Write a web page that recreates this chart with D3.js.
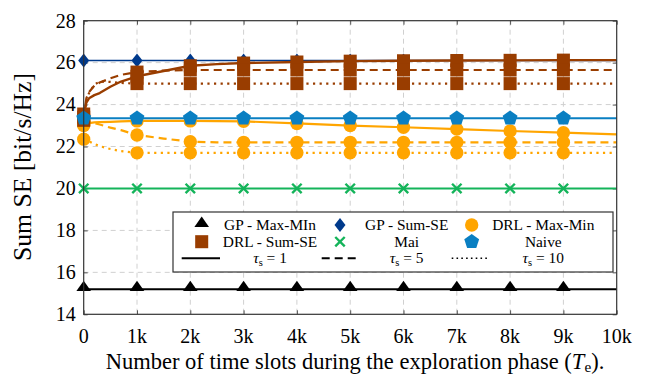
<!DOCTYPE html>
<html><head><meta charset="utf-8">
<script src="https://cdn.jsdelivr.net/npm/d3@7"></script>
</head><body style="margin:0"><svg id="c" width="652" height="375" style="font-family:'Liberation Serif', serif"></svg>
<script>
// ---------------- data ----------------
const xTicks = [0,1000,2000,3000,4000,5000,6000,7000,8000,9000,10000];
const xTickLabels = ["0","1k","2k","3k","4k","5k","6k","7k","8k","9k","10k"];
const yTicks = [14,16,18,20,22,24,26,28];
const markerX = [0,1000,2000,3000,4000,5000,6000,7000,8000,9000];

const flatX = [0,1000,2000,3000,4000,5000,6000,7000,8000,9000,10000];
const gpMaxMin = [15.2,15.2,15.2,15.2,15.2,15.2,15.2,15.2,15.2,15.2,15.2];
const gpSumSE  = [26.1,26.1,26.1,26.1,26.1,26.1,26.1,26.1,26.1,26.1,26.1];
const maiVals  = [20.0,20.0,20.0,20.0,20.0,20.0,20.0,20.0,20.0,20.0,20.0];
const naiveVals= [23.35,23.35,23.35,23.35,23.35,23.35,23.35,23.35,23.35,23.35,23.35];

const drlX = [0,50,100,200,300,500,700,1000,1500,2000,2500,3000,4000,5000,6000,7000,8000,9000,10000];
const drlSumT1  = [23.55,24.1,24.3,24.45,24.55,24.85,25.1,25.35,25.6,25.85,25.93,25.98,26.03,26.07,26.09,26.1,26.11,26.12,26.12];
const drlSumT5  = [23.4,24.3,24.6,24.9,25.05,25.25,25.42,25.55,25.62,25.65,25.65,25.65,25.65,25.65,25.65,25.65,25.65,25.65,25.65];
const drlSumT10 = [23.25,24.2,24.55,24.95,25.1,25.08,25.03,25.0,25.0,25.0,25.0,25.0,25.0,25.0,25.0,25.0,25.0,25.0,25.0];
const drlMMT1   = [23.0,23.1,23.12,23.15,23.16,23.18,23.2,23.22,23.22,23.22,23.21,23.2,23.1,23.0,22.92,22.83,22.74,22.66,22.58];
const drlMMT5   = [23.05,23.15,23.2,23.12,23.05,22.9,22.78,22.55,22.38,22.23,22.2,22.2,22.2,22.2,22.2,22.2,22.2,22.2,22.2];
const drlMMT10  = [22.35,22.3,22.25,22.12,22.02,21.88,21.78,21.7,21.7,21.7,21.7,21.7,21.7,21.7,21.7,21.7,21.7,21.7,21.7];

// ---------------- layout ----------------
const FONT = "'Liberation Serif', serif";
const svg = d3.select("#c");
const x = d3.scaleLinear().domain([0,10000]).range([83.7,616.7]);
const y = d3.scaleLinear().domain([14,28]).range([314.3,20.7]);
const X0=83.7,X1=616.7,Y0=20.7,Y1=314.3;

const C = {brown:"#993d00", orange:"#ffa500", navy:"#003a8c", blue:"#0a7fc2", green:"#14b45a", black:"#000"};

function addText(parent, fs){
  return parent.append("text").attr("font-family","Liberation Serif").style("font-family",FONT)
    .style("font-size",fs+"px").attr("fill","#000");
}
function fitSize(sample, fs, target){ // font size so that sample text width = target
  const t=addText(svg,fs).attr("x",-1000).attr("y",-1000).text(sample);
  const w=t.node().getComputedTextLength(); t.remove();
  return w>0 ? fs*target/w : fs;
}

// grid
const grid = svg.append("g");
xTicks.slice(1,-1).forEach(v=>grid.append("line").attr("x1",x(v)).attr("x2",x(v)).attr("y1",Y0).attr("y2",Y1)
  .attr("stroke","#d0d0d0").attr("stroke-width",1).attr("stroke-dasharray","5,4"));
yTicks.slice(1,-1).forEach(v=>grid.append("line").attr("x1",X0).attr("x2",X1).attr("y1",y(v)).attr("y2",y(v))
  .attr("stroke","#d0d0d0").attr("stroke-width",1).attr("stroke-dasharray","5,4"));

// tick marks via axes (inside, all sides); labels drawn separately
const ax = svg.append("g");
ax.append("g").attr("transform",`translate(0,${Y1})`)
  .call(d3.axisBottom(x).tickValues(xTicks).tickFormat("").tickSizeInner(-4).tickSizeOuter(0));
ax.append("g").attr("transform",`translate(0,${Y0})`)
  .call(d3.axisTop(x).tickValues(xTicks).tickFormat("").tickSizeInner(-4).tickSizeOuter(0));
ax.append("g").attr("transform",`translate(${X0},0)`)
  .call(d3.axisLeft(y).tickValues(yTicks).tickFormat("").tickSizeInner(-4).tickSizeOuter(0));
ax.append("g").attr("transform",`translate(${X1},0)`)
  .call(d3.axisRight(y).tickValues(yTicks).tickFormat("").tickSizeInner(-4).tickSizeOuter(0));
ax.selectAll(".domain").remove();
ax.selectAll(".tick line").attr("stroke","#555");
ax.selectAll(".tick text").remove();

const tickFS = Math.min(20, fitSize("10k",20,32));
const labels = svg.append("g");
xTicks.forEach((v,i)=>addText(labels,tickFS).attr("x",x(v)).attr("y",343).attr("text-anchor","middle").text(xTickLabels[i]));
yTicks.forEach(v=>addText(labels,tickFS).attr("x",X0-8).attr("y",y(v)).attr("dy","0.34em").attr("text-anchor","end").text(d3.format("d")(v)));

// series
const plot = svg.append("g");
const line = d3.line();
function drawLine(xs, ys, color, dash, w){
  plot.append("path").attr("d", line(xs.map((v,i)=>[x(v),y(ys[i])])))
    .attr("fill","none").attr("stroke",color).attr("stroke-width",w)
    .attr("stroke-dasharray",dash||null).attr("stroke-linejoin","round");
}
const sym = {
  tri: d3.symbol().type(d3.symbolTriangle).size(70),
  circ: d3.symbol().type(d3.symbolCircle).size(140),
  sq: d3.symbol().type(d3.symbolSquare).size(170),
  x: d3.symbol().type(d3.symbolX).size(60)
};
function pentagonPath(r){
  const pts=[];for(let k=0;k<5;k++){const a=-Math.PI/2+k*2*Math.PI/5;pts.push([r*Math.cos(a),r*Math.sin(a)]);}
  return "M"+pts.map(p=>p.join(",")).join("L")+"Z";
}
const diamondPath = "M0,-7L5.5,0L0,7L-5.5,0Z";
function markerInto(sel, kind, color, cx, cy){
  sel.attr("transform",`translate(${cx},${cy})`);
  if(kind==="pent") sel.attr("d",pentagonPath(7.8)).attr("fill",color);
  else if(kind==="x") sel.attr("d",sym.x()).attr("fill","none").attr("stroke",color).attr("stroke-width",2.4);
  else if(kind==="dia") sel.attr("d",diamondPath).attr("fill",color);
  else if(kind==="tri") sel.attr("d",sym.tri()).attr("fill",color).attr("transform",`translate(${cx},${cy-1.5}) scale(1.15,0.95)`);
  else sel.attr("d",sym[kind]()).attr("fill",color);
}
function drawMarkers(xs, ys, kind, color){
  xs.forEach((v,i)=>{
    if(!markerX.includes(v)) return;
    markerInto(plot.append("path"), kind, color, x(v), y(ys[i]));
  });
}
const DASH="8,5", DOT="2.2,4.4";
drawLine(flatX,gpMaxMin,C.black,null,2); drawMarkers(flatX,gpMaxMin,"tri",C.black);
drawLine(flatX,gpSumSE,C.navy,null,1.6); drawMarkers(flatX,gpSumSE,"dia",C.navy);
drawLine(drlX,drlMMT1,C.orange,null,2.2);
drawLine(drlX,drlMMT5,C.orange,DASH,2.2);
drawLine(drlX,drlMMT10,C.orange,DOT,2.2);
drawMarkers(drlX,drlMMT1,"circ",C.orange);drawMarkers(drlX,drlMMT5,"circ",C.orange);drawMarkers(drlX,drlMMT10,"circ",C.orange);
drawLine(drlX,drlSumT1,C.brown,null,2.4);
drawLine(drlX,drlSumT5,C.brown,DASH,2.2);
drawLine(drlX,drlSumT10,C.brown,DOT,2.2);
drawMarkers(drlX,drlSumT1,"sq",C.brown);drawMarkers(drlX,drlSumT5,"sq",C.brown);drawMarkers(drlX,drlSumT10,"sq",C.brown);
drawLine(flatX,maiVals,C.green,null,2); drawMarkers(flatX,maiVals,"x",C.green);
drawLine(flatX,naiveVals,C.blue,null,2); drawMarkers(flatX,naiveVals,"pent",C.blue);

// frame
svg.append("rect").attr("x",X0).attr("y",Y0).attr("width",X1-X0).attr("height",Y1-Y0)
  .attr("fill","none").attr("stroke","#333").attr("stroke-width",1.2);

// legend
const lg = svg.append("g");
lg.append("rect").attr("x",173).attr("y",212).attr("width",440).attr("height",60)
  .attr("fill","#fff").attr("stroke","#333").attr("stroke-width",1.2);
const rowY=[225,241.7,258.3];
const mkX=[201.7,340,471.7], txX=[270,406.7,543.3];
const legendItems=[
  {t:"GP - Max-MIn",k:"tri",c:C.black},{t:"GP - Sum-SE",k:"dia",c:C.navy},{t:"DRL - Max-Min",k:"circ",c:C.orange},
  {t:"DRL - Sum-SE",k:"sq",c:C.brown},{t:"Mai",k:"x",c:C.green},{t:"Naive",k:"pent",c:C.blue}
];
const LFS = Math.min(15.5, fitSize("GP - Max-MIn",16,92));
legendItems.forEach((it,i)=>{
  const cx=mkX[i%3], cy=rowY[Math.floor(i/3)];
  markerInto(lg.append("path"), it.k, it.c, cx, cy);
  addText(lg,LFS).attr("x",txX[i%3]).attr("y",cy+0.33*LFS).attr("text-anchor","middle").text(it.t);
});
const tauVals=["1","5","10"], tauDash=[null,DASH,"1.6,3.2"];
const lineX=[[181.7,220],[321.7,360],[451.7,490]];
tauVals.forEach((tv,i)=>{
  lg.append("line").attr("x1",lineX[i][0]).attr("x2",lineX[i][1]).attr("y1",rowY[2]).attr("y2",rowY[2])
    .attr("stroke","#000").attr("stroke-width",i===2?1.6:2).attr("stroke-dasharray",tauDash[i]);
  const t=addText(lg,LFS).attr("x",txX[i]).attr("y",rowY[2]+0.3*LFS).attr("text-anchor","middle");
  t.append("tspan").attr("font-style","italic").text("τ");
  t.append("tspan").style("font-size",(LFS*0.68)+"px").attr("dy",3).text("s");
  t.append("tspan").attr("dy",-3).text(" = "+tv);
});

// axis titles
const xlFS = Math.min(22.5, fitSize("Number of time slots during the exploration phase (Te).",22,560));
const xl=addText(svg,xlFS).attr("x",355).attr("y",369).attr("text-anchor","middle");
xl.append("tspan").text("Number of time slots during the exploration phase (");
xl.append("tspan").attr("font-style","italic").text("T");
xl.append("tspan").style("font-size",(xlFS*0.68)+"px").attr("dy",3).text("e");
xl.append("tspan").attr("dy",-3).text(").");
const ylFS = fitSize("Sum SE [bit/s/Hz]",22,188);
addText(svg,ylFS).attr("transform","translate(31,167) rotate(-90)").attr("text-anchor","middle").text("Sum SE [bit/s/Hz]");
</script></body></html>
